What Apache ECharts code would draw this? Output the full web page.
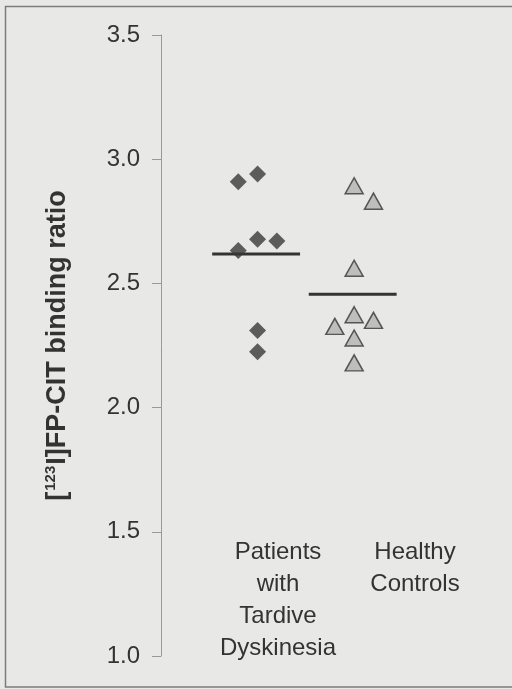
<!DOCTYPE html>
<html>
<head>
<meta charset="utf-8">
<title>[123I]FP-CIT binding ratio</title>
<script src="https://cdn.jsdelivr.net/npm/echarts@6/dist/echarts.min.js"></script>
<style>
  html, body { margin: 0; padding: 0; background: #e8e8e6; }
  #chart { width: 512px; height: 689px; }
</style>
</head>
<body>
<div id="chart"></div>
<script>
// Group names (drawn under each column of points)
const categories = ['Patients\nwith\nTardive\nDyskinesia', 'Healthy\nControls'];

// Individual binding ratios, patients with tardive dyskinesia
const patientValues = [2.909, 2.940, 2.678, 2.671, 2.632, 2.310, 2.225];
// side-by-side column of each patient point (-1 left, 0 centre, 1 right)
const patientColumns = [-1, 0, 0, 1, -1, 0, 0];

// Individual binding ratios, healthy controls
const controlValues = [2.893, 2.831, 2.561, 2.374, 2.351, 2.327, 2.280, 2.180];
const controlColumns = [0, 1, 0, 0, 1, -1, 0, 0];

// Group means (horizontal bars)
const groupMeans = [2.618, 2.456];

// Y axis ticks
const yMin = 1.0, yMax = 3.5, yStep = 0.5;

const COLUMN_STEP = 0.2;     // x spacing between side-by-side points
const MEAN_LEFT = -0.47, MEAN_RIGHT = 0.44;
const TEXT = '#333333';
const FONT = '"Liberation Sans", Arial, Helvetica, sans-serif';

function points(values, columns, group) {
  return values.map((v, i) => [group + columns[i] * COLUMN_STEP, v]);
}

const chart = echarts.init(document.getElementById('chart'), null, { renderer: 'canvas' });

const meanSeries = groupMeans.map((m, g) => ({
  type: 'line',
  data: [[g + MEAN_LEFT, m], [g + MEAN_RIGHT, m]],
  symbol: 'none',
  lineStyle: { color: '#333', width: 3 },
  z: 1,
  silent: true
}));

chart.setOption({
  animation: false,
  backgroundColor: '#e8e8e6',
  grid: { left: 161, right: 13, top: 35, bottom: 33, containLabel: false },
  xAxis: { type: 'value', min: -1, max: 2.5, show: false },
  yAxis: {
    type: 'value',
    min: yMin, max: yMax, interval: yStep,
    splitLine: { show: false },
    axisLine: { show: true, onZero: false, lineStyle: { color: '#999', width: 1 } },
    axisTick: { show: true, length: 9, lineStyle: { color: '#999', width: 1 } },
    axisLabel: {
      margin: 21, fontSize: 24, color: TEXT, fontFamily: FONT,
      formatter: v => v.toFixed(1)
    },
    name: '{b|[}{sup|123}{b|I]FP-CIT binding ratio}',
    nameLocation: 'middle',
    nameRotate: 90,
    nameGap: 88,
    nameTextStyle: {
      rich: {
        b: { fontSize: 27, fontWeight: 'bold', color: TEXT, fontFamily: FONT, lineHeight: 30 },
        sup: { fontSize: 15, fontWeight: 'bold', color: TEXT, fontFamily: FONT, lineHeight: 30, verticalAlign: 'top', padding: [0, 1, 0, 1] }
      }
    }
  },
  series: [
    ...meanSeries,
    {
      type: 'scatter',
      name: 'Patients with Tardive Dyskinesia',
      data: points(patientValues, patientColumns, 0),
      symbol: 'diamond',
      symbolSize: [17, 17],
      itemStyle: { color: '#383838' },
      z: 3
    },
    {
      type: 'scatter',
      name: 'Healthy Controls',
      data: points(controlValues, controlColumns, 1),
      symbol: 'triangle',
      symbolSize: [18, 16],
      itemStyle: { color: '#b3b3b1', borderColor: '#363636', borderWidth: 1.5 },
      z: 3
    }
  ],
  graphic: [
    {
      type: 'rect',
      shape: { x: 5.5, y: 6.5, width: 530, height: 680.5 },
      style: { fill: 'none', stroke: '#7c7c7c', lineWidth: 1.5 },
      silent: true
    },
    ...categories.map((c, i) => ({
      type: 'text',
      x: [278, 415][i],
      y: 536,
      style: {
        text: c,
        fontSize: 24,
        fontFamily: FONT,
        fill: TEXT,
        lineHeight: 32,
        align: 'center',
        verticalAlign: 'top'
      },
      silent: true
    }))
  ]
});
</script>
</body>
</html>
